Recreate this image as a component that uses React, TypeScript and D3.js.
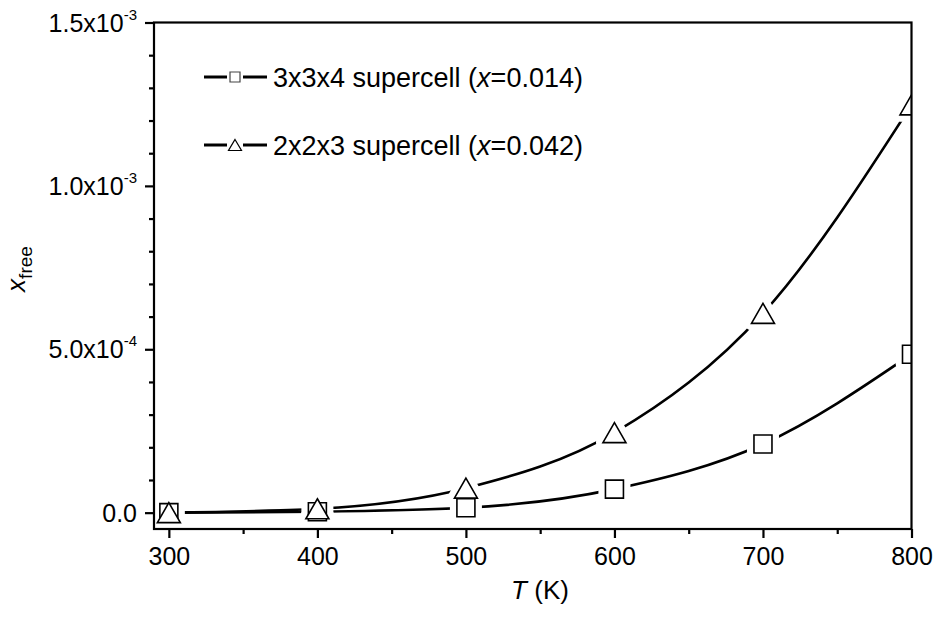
import React, { useRef, useEffect } from 'react';
import * as d3 from 'd3';

const temps = [300, 400, 500, 600, 700, 800];
const squareVals = [0, 0.000003, 0.000015, 0.000072, 0.00021, 0.000485];
const triangleVals = [0, 0.000012, 0.000075, 0.000245, 0.00061, 0.001248];
const seriesNames = ['3x3x4 supercell', '2x2x3 supercell'];
const seriesX = ['0.014', '0.042'];
const xTicks = [300, 400, 500, 600, 700, 800];
const xMinor = [350, 450, 550, 650, 750];
const yTicks = [0, 0.0005, 0.001, 0.0015];
const yMantissa = ['0.0', '5.0', '1.0', '1.5'];
const yExp = ['', '-4', '-3', '-3'];

const font = "'Liberation Sans', Arial, Helvetica, sans-serif";

const App = () => {
    const ref = useRef<SVGSVGElement>(null);

    useEffect(() => {
        const width = 938;
        const height = 617;
        const left = 154, right = 911.5, top = 22.5, bottom = 529;

        const x = d3.scaleLinear().domain([290, 800]).range([left, right]);
        const y = d3.scaleLinear().domain([-0.00005, 0.0015]).range([bottom, top]);

        const svg = d3.select(ref.current);
        svg.selectAll('*').remove();
        svg.attr('width', width).attr('height', height);

        svg.append('defs').append('clipPath').attr('id', 'plotclip')
            .append('rect').attr('x', left).attr('y', top)
            .attr('width', right - left).attr('height', bottom - top);

        const squarePath = (s: number) => `M${-s / 2},${-s / 2}H${s / 2}V${s / 2}H${-s / 2}Z`;
        const trianglePath = (w: number, h: number) => `M0,${-h / 2}L${w / 2},${h / 2}H${-w / 2}Z`;
        const shapes = [squarePath(18), trianglePath(23, 20)];
        const legendShapes = [squarePath(10), trianglePath(13, 11)];

        const series = [squareVals, triangleVals].map(vals => temps.map((t, i) => [t, vals[i]] as [number, number]));

        const plot = svg.append('g').attr('clip-path', 'url(#plotclip)');
        const line = d3.line<[number, number]>()
            .x(d => x(d[0])).y(d => y(d[1]))
            .curve(d3.curveMonotoneX);

        series.forEach(s => {
            plot.append('path').attr('d', line(s)).attr('fill', 'none')
                .attr('stroke', '#000').attr('stroke-width', 2.6);
        });
        // white halo so the line stops short of every marker
        series.forEach((s, k) => {
            plot.append('g').selectAll('path').data(s).join('path')
                .attr('transform', d => `translate(${x(d[0])},${y(d[1])})`)
                .attr('d', shapes[k]).attr('fill', '#fff')
                .attr('stroke', '#fff').attr('stroke-width', 14).attr('stroke-linejoin', 'round');
        });
        series.forEach((s, k) => {
            plot.append('g').selectAll('path').data(s).join('path')
                .attr('transform', d => `translate(${x(d[0])},${y(d[1])})`)
                .attr('d', shapes[k]).attr('fill', k === 0 ? 'none' : '#fff')
                .attr('stroke', '#000').attr('stroke-width', 1.6);
        });

        // frame
        svg.append('rect').attr('x', left).attr('y', top)
            .attr('width', right - left).attr('height', bottom - top)
            .attr('fill', 'none').attr('stroke', '#000').attr('stroke-width', 2.2);

        // x axis
        const xAxis = svg.append('g').attr('transform', `translate(0,${bottom})`);
        xAxis.call(d3.axisBottom(x).tickValues(xTicks).tickSize(9).tickPadding(9).tickFormat(d3.format('d')));
        xAxis.append('g').call(d3.axisBottom(x).tickValues(xMinor).tickSize(5).tickFormat(() => ''));
        xAxis.selectAll('.domain').remove();
        xAxis.selectAll('line').attr('stroke-width', 2.2);
        xAxis.selectAll('text').attr('font-size', 25).attr('font-family', font).attr('fill', '#000');

        // y axis
        const yMinor = d3.range(1, 15).map(i => i * 0.0001).filter(v => !yTicks.some(t => Math.abs(t - v) < 1e-9));
        const yAxis = svg.append('g').attr('transform', `translate(${left},0)`);
        yAxis.call(d3.axisLeft(y).tickValues(yTicks).tickSize(9).tickFormat(() => ''));
        yAxis.append('g').call(d3.axisLeft(y).tickValues(yMinor).tickSize(5).tickFormat(() => ''));
        yAxis.selectAll('.domain').remove();
        yAxis.selectAll('line').attr('stroke-width', 2.2);

        const yLabels = svg.append('g').attr('font-family', font).attr('font-size', 25);
        yTicks.forEach((t, i) => {
            const txt = yLabels.append('text').attr('x', 137).attr('y', y(t) + 9)
                .attr('text-anchor', 'end');
            txt.append('tspan').text(yExp[i] ? `${yMantissa[i]}x10` : yMantissa[i]);
            if (yExp[i]) {
                txt.append('tspan').attr('font-size', 15).attr('dy', -12).text(yExp[i]);
            }
        });

        // axis titles
        const xt = svg.append('text').attr('x', 540).attr('y', 599)
            .attr('text-anchor', 'middle').attr('font-family', font).attr('font-size', 26);
        xt.append('tspan').attr('font-style', 'italic').text('T');
        xt.append('tspan').text(' (K)');

        const yt = svg.append('text').attr('transform', 'translate(25,269) rotate(-90)')
            .attr('text-anchor', 'middle').attr('font-family', font).attr('font-size', 26);
        yt.append('tspan').attr('font-style', 'italic').text('x');
        yt.append('tspan').attr('font-size', 19).attr('dy', 7).text('free');

        // legend
        const rowY = [77, 145];
        seriesNames.forEach((name, k) => {
            const g = svg.append('g').attr('transform', `translate(0,${rowY[k]})`);
            g.append('line').attr('x1', 204).attr('x2', 227).attr('y1', 0).attr('y2', 0)
                .attr('stroke', '#000').attr('stroke-width', 3);
            g.append('line').attr('x1', 243).attr('x2', 267).attr('y1', 0).attr('y2', 0)
                .attr('stroke', '#000').attr('stroke-width', 3);
            g.append('path').attr('transform', 'translate(235,0)').attr('d', legendShapes[k])
                .attr('fill', '#fff').attr('stroke', k === 0 ? '#444' : '#000').attr('stroke-width', 1.2);
            const t = g.append('text').attr('x', 273).attr('y', 9.5)
                .attr('font-family', font).attr('font-size', 27);
            t.append('tspan').text(`${name} (`);
            t.append('tspan').attr('font-style', 'italic').text('x');
            t.append('tspan').text(`=${seriesX[k]})`);
        });
    }, []);

    return <svg ref={ref} style={{ position: 'absolute', left: 0, top: 0, background: '#fff' }}></svg>;
};

export default App;
